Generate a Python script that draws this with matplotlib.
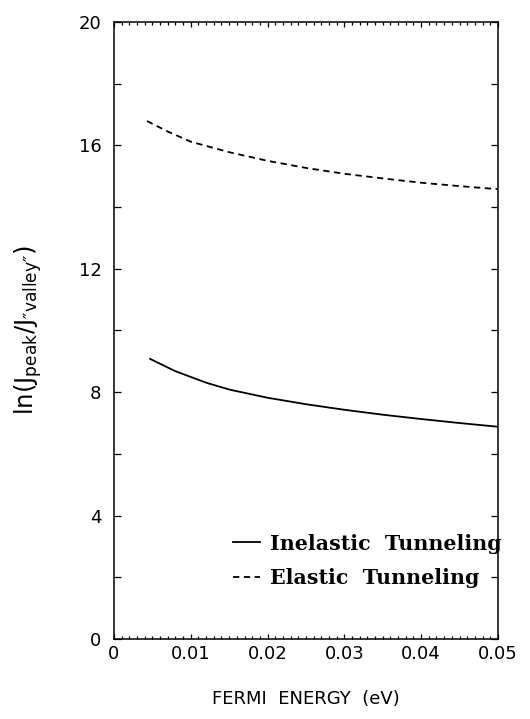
import matplotlib
matplotlib.use("Agg")
import matplotlib.pyplot as plt
from matplotlib.ticker import MultipleLocator

# values
inelastic_x = [0.0047, 0.0080, 0.0121, 0.0151, 0.0200, 0.0250, 0.0300, 0.0350, 0.0400, 0.0450, 0.0500]
inelastic_y = [9.08, 8.68, 8.30, 8.08, 7.82, 7.61, 7.43, 7.27, 7.13, 7.00, 6.88]

elastic_x = [0.0043, 0.0070, 0.0100, 0.0150, 0.0200, 0.0250, 0.0300, 0.0350, 0.0400, 0.0450, 0.0500]
elastic_y = [16.79, 16.45, 16.12, 15.78, 15.50, 15.27, 15.08, 14.93, 14.79, 14.68, 14.58]

x_ticks = [0, 0.01, 0.02, 0.03, 0.04, 0.05]
x_ticklabels = ["0", "0.01", "0.02", "0.03", "0.04", "0.05"]
y_ticks = [0, 4, 8, 12, 16, 20]

plt.rcParams['font.family'] = ['DejaVu Sans']
plt.rcParams['mathtext.default'] = 'regular'

fig = plt.figure(figsize=(5.30, 7.19), dpi=100)
ax = fig.add_axes([0.215, 0.1113, 0.7245, 0.8581])

ax.plot(inelastic_x, inelastic_y, color='black', lw=1.3, label='Inelastic  Tunneling')
ax.plot(elastic_x, elastic_y, color='black', lw=1.3, ls=(0, (3.5, 2.5)), label='Elastic  Tunneling')

ax.set_xlim(0, 0.05)
ax.set_ylim(0, 20)

ax.set_xticks(x_ticks)
ax.set_xticklabels(x_ticklabels)
ax.xaxis.set_minor_locator(MultipleLocator(0.001))
ax.set_yticks(y_ticks)
ax.yaxis.set_minor_locator(MultipleLocator(2))

ax.tick_params(axis='both', which='both', direction='in', top=True, right=True, width=0.9)
ax.tick_params(axis='x', which='major', length=3.5, pad=4, labelsize=13)
ax.tick_params(axis='x', which='minor', length=2)
ax.tick_params(axis='y', which='major', length=5, pad=9, labelsize=13)
ax.tick_params(axis='y', which='minor', length=5)

for s in ax.spines.values():
    s.set_linewidth(1.1)

ax.set_xlabel('FERMI  ENERGY  (eV)', fontsize=13, labelpad=20)
ax.set_ylabel("ln(J$_{peak}$/J$_{\u2033valley\u2033}$)", fontsize=17.5, labelpad=25)

leg = ax.legend(loc='lower right', bbox_to_anchor=(1.01, 0.082), frameon=False,
                borderpad=0, borderaxespad=0,
                handlelength=1.3, handletextpad=0.5, labelspacing=0.72,
                prop={'family': 'DejaVu Serif', 'weight': 'bold', 'size': 14.8})

fig.savefig('out.png', dpi=100)
